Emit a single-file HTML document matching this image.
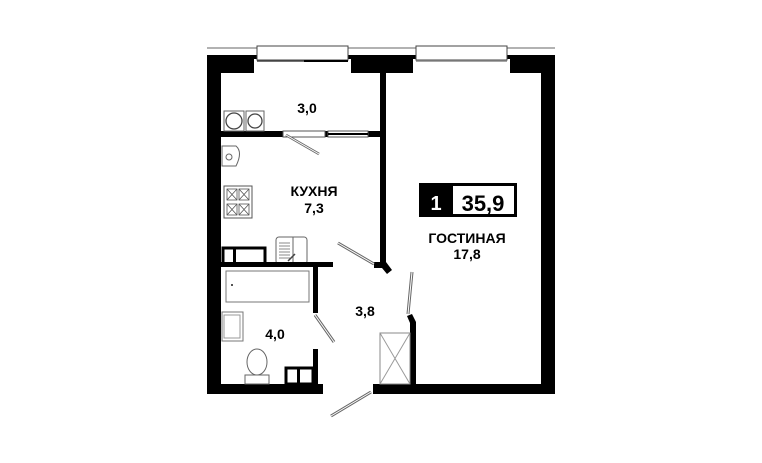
<!DOCTYPE html>
<html><head><meta charset="utf-8"><style>
html,body{margin:0;padding:0;background:#fff;}
svg{display:block;}
text{font-family:"Liberation Sans",sans-serif;font-weight:bold;fill:#000;}
</style></head><body>
<svg width="762" height="463" viewBox="0 0 762 463" xmlns="http://www.w3.org/2000/svg">
<line x1="207" y1="48" x2="555" y2="48" stroke="#999" stroke-width="1.5"/>
<rect x="207" y="55" width="14" height="339" fill="#000"/>
<rect x="541" y="55" width="14" height="339" fill="#000"/>
<rect x="207" y="55" width="348" height="18" fill="#000"/>
<rect x="207" y="384" width="116" height="10" fill="#000"/>
<rect x="373" y="384" width="182" height="10" fill="#000"/>
<rect x="254" y="59" width="97" height="14" fill="#fff"/>
<rect x="257" y="46" width="91" height="14" fill="#fff" stroke="#444" stroke-width="1"/>
<line x1="257" y1="61" x2="348" y2="61" stroke="#444" stroke-width="1.5"/>
<rect x="304" y="60" width="44" height="2" fill="#000"/>
<rect x="413" y="59" width="97" height="14" fill="#fff"/>
<rect x="416" y="46" width="91" height="14" fill="#fff" stroke="#444" stroke-width="1"/>
<line x1="416" y1="61" x2="507" y2="61" stroke="#888" stroke-width="1.5"/>
<rect x="380" y="73" width="6" height="190" fill="#000"/>
<polygon points="380,262 386,262 392,270 387,274 382,268 374,268 374,262" fill="#000"/>
<rect x="221" y="131" width="159" height="6" fill="#000"/>
<rect x="283" y="131" width="42" height="6" fill="#fff" stroke="#555" stroke-width="1"/>
<rect x="328" y="131" width="40" height="6" fill="#fff" stroke="#555" stroke-width="1"/>
<rect x="328" y="133" width="40" height="2" fill="#000"/>
<line x1="286" y1="135" x2="319" y2="154" stroke="#666" stroke-width="2.5"/>
<line x1="286" y1="135" x2="319" y2="154" stroke="#fff" stroke-width="1"/>
<rect x="224" y="111" width="20" height="20" fill="none" stroke="#666"/>
<circle cx="234" cy="121" r="8" fill="none" stroke="#444" stroke-width="1.3"/>
<rect x="246" y="111" width="18" height="20" fill="none" stroke="#666"/>
<circle cx="255" cy="121" r="7" fill="none" stroke="#444" stroke-width="1.3"/>
<path d="M222 146 H236 Q243 152 236 166 H222 Z" fill="none" stroke="#666"/>
<circle cx="229" cy="157" r="3" fill="none" stroke="#666"/>
<rect x="224" y="186" width="28" height="32" fill="none" stroke="#555"/>
<g stroke="#555" stroke-width="0.8" fill="none">
<rect x="227" y="189" width="10" height="11"/><rect x="239" y="189" width="10" height="11"/>
<rect x="227" y="204" width="10" height="11"/><rect x="239" y="204" width="10" height="11"/>
<path d="M227 189 L237 200 M237 189 L227 200 M239 189 L249 200 M249 189 L239 200 M227 204 L237 215 M237 204 L227 215 M239 204 L249 215 M249 204 L239 215"/>
</g>
<rect x="276" y="237" width="31" height="27" rx="3" fill="#fff" stroke="#666"/>
<line x1="293" y1="237" x2="293" y2="264" stroke="#666"/>
<g stroke="#888"><line x1="279" y1="243" x2="290" y2="243"/><line x1="279" y1="246" x2="290" y2="246"/><line x1="279" y1="249" x2="290" y2="249"/><line x1="279" y1="252" x2="290" y2="252"/><line x1="279" y1="255" x2="290" y2="255"/><line x1="279" y1="258" x2="290" y2="258"/></g>
<line x1="288" y1="261" x2="295" y2="254" stroke="#444" stroke-width="1.5"/>
<rect x="221" y="262" width="112" height="5" fill="#000"/>
<rect x="223" y="248" width="42" height="16" fill="none" stroke="#000" stroke-width="3"/>
<rect x="233" y="248" width="3" height="16" fill="#000"/>
<rect x="226" y="271" width="83" height="31" fill="none" stroke="#777"/>
<rect x="231" y="284" width="2" height="2" fill="#555"/>
<rect x="313" y="267" width="5" height="46" fill="#000"/>
<rect x="313" y="349" width="5" height="35" fill="#000"/>
<rect x="286" y="368" width="27" height="16" fill="none" stroke="#000" stroke-width="3"/>
<rect x="297" y="368" width="3" height="16" fill="#000"/>
<rect x="222" y="312" width="21" height="29" fill="none" stroke="#777"/>
<rect x="224" y="315" width="16" height="23" fill="none" stroke="#999"/>
<ellipse cx="257" cy="362" rx="10" ry="13" fill="none" stroke="#666"/>
<rect x="245" y="375" width="24" height="9" fill="none" stroke="#666"/>
<g stroke="#666" stroke-width="3"><line x1="315" y1="315" x2="334" y2="342"/><line x1="338" y1="243" x2="374" y2="264"/><line x1="412" y1="272" x2="408" y2="314"/><line x1="371" y1="392" x2="331" y2="416"/></g>
<g stroke="#fff" stroke-width="1"><line x1="315" y1="315" x2="334" y2="342"/><line x1="338" y1="243" x2="374" y2="264"/><line x1="412" y1="272" x2="408" y2="314"/><line x1="371" y1="392" x2="331" y2="416"/></g>
<polygon points="407,316 412,314 416,322 416,384 410,384 410,323" fill="#000"/>
<rect x="380" y="333" width="30" height="51" fill="#fff" stroke="#888"/>
<line x1="380" y1="333" x2="410" y2="384" stroke="#999"/>
<line x1="410" y1="333" x2="380" y2="384" stroke="#999"/>
<rect x="419" y="183" width="98" height="34" fill="#000"/>
<rect x="453" y="186" width="61" height="28" fill="#fff"/>
<text x="436" y="210" font-size="20" text-anchor="middle" style="fill:#fff">1</text>
<text x="483" y="211" font-size="22" text-anchor="middle">35,9</text>
<text x="307" y="113" font-size="14" text-anchor="middle">3,0</text>
<text x="314" y="196" font-size="14" text-anchor="middle">КУХНЯ</text>
<text x="314" y="213" font-size="14" text-anchor="middle">7,3</text>
<text x="467" y="243" font-size="14" text-anchor="middle">ГОСТИНАЯ</text>
<text x="467" y="259" font-size="14" text-anchor="middle">17,8</text>
<text x="365" y="316" font-size="14" text-anchor="middle">3,8</text>
<text x="275" y="339" font-size="14" text-anchor="middle">4,0</text>
</svg>
</body></html>
